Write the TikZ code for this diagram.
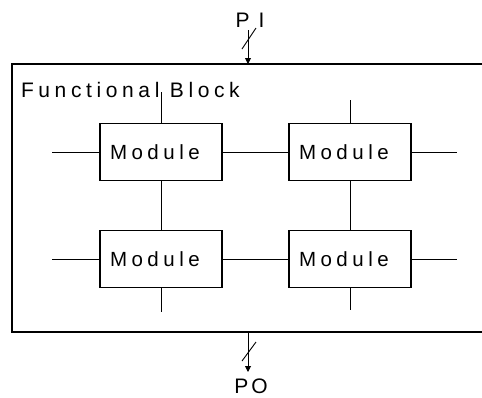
\documentclass[tikz,border=0pt]{standalone}
\usepackage{fontspec}
\setmainfont{Liberation Sans}
\usetikzlibrary{arrows.meta}
\newfontfamily\spaced[LetterSpace=22]{Liberation Sans}
\begin{document}
\begin{tikzpicture}[x=1pt,y=-1pt,
  every node/.style={inner sep=0pt, outer sep=0pt},
  module/.style={draw, line width=1.1pt, minimum width=122pt, minimum height=57pt, text width=112pt, align=left, font=\spaced\fontsize{20.5}{24}\selectfont},
  wire/.style={line width=1pt},
  lbl/.style={font=\spaced\fontsize{21}{24}\selectfont},
  bus/.style={line width=0.9pt, -{Triangle[length=6pt,width=6pt]}}]
\useasboundingbox (0,0) rectangle (482,397);
% functional block (right side runs off the picture)
\coordinate (fbtl) at (12,64);
\coordinate (fbbl) at (12,332);
\draw[line width=1.1pt] (490,64) -- (fbtl) -- (fbbl) -- (490,332);
\node[lbl, anchor=base west] (fbl) at (21,97) {Functional Block};
% modules
\node[module] (m1) at (161,152) {\hspace{5pt}Module};
\node[module] (m2) at (350,152) {\hspace{5pt}Module};
\node[module] (m3) at (161,259) {\hspace{5pt}Module};
\node[module] (m4) at (350,259) {\hspace{5pt}Module};
% stub end points
\coordinate (s1l) at (52,152);
\coordinate (s1t) at (161,92);
\coordinate (s2t) at (350,100);
\coordinate (s2r) at (457,152);
\coordinate (s3l) at (52,259);
\coordinate (s3b) at (161,312);
\coordinate (s4r) at (457,259);
\coordinate (s4b) at (350,310);
\draw[wire] (s1l) -- (m1.west);
\draw[wire] (s1t) -- (m1.north);
\draw[wire] (m1.east) -- (m2.west);
\draw[wire] (s2t) -- (m2.north);
\draw[wire] (m2.east) -- (s2r);
\draw[wire] (m1.south) -- (m3.north);
\draw[wire] (m2.south) -- (m4.north);
\draw[wire] (s3l) -- (m3.west);
\draw[wire] (m3.east) -- (m4.west);
\draw[wire] (m4.east) -- (s4r);
\draw[wire] (m3.south) -- (s3b);
\draw[wire] (m4.south) -- (s4b);
% PI
\node[lbl, anchor=base] (pi) at (250,27) {P\hspace{9pt}I};
\coordinate (pis) at (248,30);
\coordinate (pie) at (248,64);
\draw[bus] (pis) -- (pie);
\draw[line width=0.9pt] (242,49) -- (256,28);
% PO
\coordinate (pos) at (248,332);
\coordinate (poe) at (248,372);
\draw[bus] (pos) -- (poe);
\draw[line width=0.9pt] (242,361) -- (256,342);
\node[lbl, anchor=base] (po) at (251,393) {P\hspace{3pt}O};
\end{tikzpicture}
\end{document}
